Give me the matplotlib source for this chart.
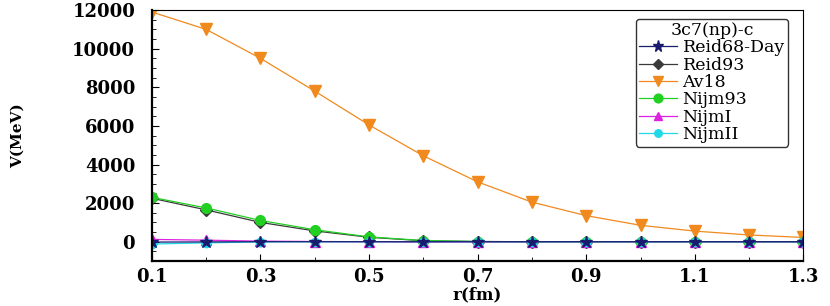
import matplotlib.pyplot as plt
from matplotlib.ticker import MultipleLocator

r = [0.1, 0.2, 0.3, 0.4, 0.5, 0.6, 0.7, 0.8, 0.9, 1.0, 1.1, 1.2, 1.3]

reid68 = [-20, -10, 0, 0, 0, 0, 0, 0, 0, 0, 0, 0, 0]
reid93 = [2250, 1650, 1000, 560, 230, 50, 10, 0, 0, 0, 0, 0, 0]
av18 = [11900, 11000, 9500, 7800, 6050, 4450, 3100, 2050, 1350, 850, 550, 350, 220]
nijm93 = [2300, 1750, 1100, 620, 250, 60, 10, 0, 0, 0, 0, 0, 0]
nijm1 = [120, 80, 30, 10, 0, -20, -10, 0, 0, 0, 0, 0, 0]
nijm2 = [-120, -60, -10, 0, 0, 0, 0, 0, 0, 0, 0, 0, 0]

labels = ['Reid68-Day', 'Reid93', 'Av18', 'Nijm93', 'NijmI', 'NijmII']
series = [reid68, reid93, av18, nijm93, nijm1, nijm2]
colors = ['#1a1a6e', '#3a3a3a', '#f08a1e', '#22d022', '#e020e0', '#20d8e8']
markers = ['*', 'D', 'v', 'o', '^', 'o']
sizes = [9, 6, 8, 7, 7, 6]

plt.rcParams['font.family'] = ['DejaVu Serif']

fig = plt.figure(figsize=(8.3, 3.06), dpi=100)
ax = fig.add_axes([0.183, 0.147, 0.785, 0.82])

# star series drawn last so it sits on top
order = [1, 2, 3, 4, 5, 0]
handles = {}
for i in order:
    h, = ax.plot(r, series[i], color=colors[i], marker=markers[i], markersize=sizes[i],
                 linewidth=0.9, label=labels[i])
    handles[i] = h

ax.set_xlim(0.1, 1.3)
ax.set_ylim(-1000, 12000)
ax.xaxis.set_minor_locator(MultipleLocator(0.1))
ax.yaxis.set_major_locator(MultipleLocator(2000))
ax.yaxis.set_minor_locator(MultipleLocator(500))
ax.set_xticks([0.1, 0.3, 0.5, 0.7, 0.9, 1.1, 1.3])
ax.set_xticklabels(['0.1', '0.3', '0.5', '0.7', '0.9', '1.1', '1.3'])
ax.tick_params(which='both', direction='in', top=False, right=False)
ax.tick_params(which='major', length=5, labelsize=13, pad=5)
ax.tick_params(axis='y', which='major', pad=12)
ax.tick_params(which='minor', length=3)
for lab in ax.get_xticklabels() + ax.get_yticklabels():
    lab.set_fontweight('bold')

ax.spines['left'].set_linewidth(1.6)
ax.spines['bottom'].set_linewidth(1.6)
ax.spines['top'].set_linewidth(0.8)
ax.spines['right'].set_linewidth(0.8)

ax.set_xlabel('r(fm)', fontsize=12, fontweight='bold', labelpad=0)
ax.set_ylabel('V(MeV)', fontsize=11, fontweight='bold', labelpad=34)

leg = ax.legend([handles[i] for i in range(6)], labels, title='3c7(np)-c', loc='upper right',
                bbox_to_anchor=(0.982, 0.98), fontsize=12.5, title_fontsize=12.5, frameon=True,
                fancybox=True, edgecolor='black', handlelength=2.2, handletextpad=0.3,
                borderpad=0.2, labelspacing=0.02, borderaxespad=0.2, markerscale=0.9)
leg.get_frame().set_linewidth(1.0)

fig.savefig('out.png', dpi=100)
